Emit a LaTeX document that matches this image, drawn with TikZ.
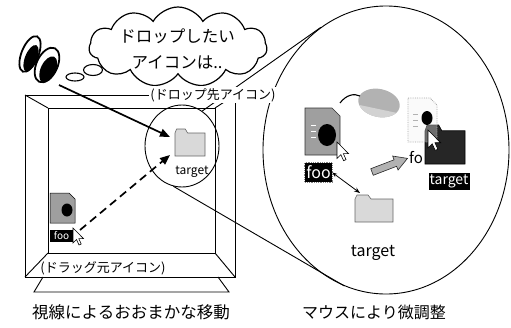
\documentclass[tikz,border=0pt]{standalone}
\usepackage{fontspec}
\setmainfont{Noto Sans CJK JP}
\usetikzlibrary{arrows.meta,shapes.geometric,shapes.symbols}
\begin{document}
\begin{tikzpicture}[x=1pt,y=-1pt,
  thinline/.style={line width=0.9pt},
  bold arrow/.style={line width=1.7pt,-{Triangle[length=10pt,width=8pt]}},
  iconlabel/.style={fill=black,text=white,inner sep=0pt},
  lightstipple/.style={fill=gray!30,draw=black!60,line width=0.6pt},
  folder/.pic={\path[pic actions] (0,4) -- (2,0) -- (13,0) -- (16,4) -- (38,4) -- (38,27) -- (0,27) -- cycle;},
  mousecursor/.pic={\draw[fill=white,line width=0.6pt,line join=miter]
      (0,0) -- (0,15) -- (3.5,11.5) -- (6,17) -- (8.2,16) -- (5.8,10.6) -- (10.5,10.6) -- cycle;},
]
\useasboundingbox (0,0) rectangle (511,327);

% --- eyes ---
\begin{scope}[shift={(30,54)},rotate=68]
  \draw[line width=1.8pt,fill=white] (0,0) ellipse [x radius=19,y radius=8.5];
  \fill (-3.5,2.5) ellipse [x radius=14,y radius=6];
\end{scope}
\begin{scope}[shift={(47,65)},rotate=65]
  \draw[line width=1.8pt,fill=white] (0,0) ellipse [x radius=18.5,y radius=10.5];
  \fill (-3.5,3) ellipse [x radius=14,y radius=7.5];
\end{scope}

% --- thought bubble ---
\draw[line width=1.1pt,fill=white] (75,77) ellipse [x radius=9,y radius=4];
\draw[line width=1.1pt,fill=white] (93,70) ellipse [x radius=9.5,y radius=5.5];
\node[cloud,draw,fill=white,line width=1.2pt,cloud puffs=11,cloud puff arc=120,aspect=2.3,
      minimum width=178pt,minimum height=80pt,inner sep=0pt] (thought) at (178,47) {};
\node[align=center,font=\fontsize{16.5}{26}\selectfont] (thoughttext) at (177,49) {ドロップしたい\\アイコンは..};

% --- monitor ---
\draw[thinline] (25,95) rectangle (235,277);
\draw[thinline] (48,108) rectangle (215,253);
\draw[thinline] (25,95) -- (48,108) (235,95) -- (215,108) (25,277) -- (48,253) (235,277) -- (215,253);
\draw[thinline] (43,277) -- (34,292) -- (229,292) -- (218,277);

% --- magnifier circles ---
\node[ellipse,draw,thinline,minimum width=74pt,minimum height=82pt,inner sep=0pt] (lens) at (182,146) {};
\node[ellipse,draw,thinline,minimum width=246pt,minimum height=288pt,inner sep=0pt] (zoomview) at (386,150) {};
\draw[thinline] (lens.60) -- (zoomview.118);
\draw[thinline] (lens.258) -- (zoomview.-107);

\node[fill=white,inner sep=1pt,font=\fontsize{13}{13}\selectfont] (droplab) at (213,95) {(ドロップ先アイコン)};
\node[font=\fontsize{13}{13}\selectfont] (draglab) at (103,268) {(ドラッグ元アイコン)};

% --- screen icons ---
\pic[lightstipple,xscale=30/38] at (175,129) {folder};
\node[font=\fontsize{12}{12}\selectfont] (scrtarget) at (192,172) {target};

\filldraw[fill=gray!75,draw=black,line width=0.5pt] (50,193) -- (69,193) -- (75,199) -- (75,223) -- (50,223) -- cycle;
\fill (67,210) ellipse [x radius=5.5,y radius=6.5];
\node[iconlabel,minimum width=23pt,minimum height=12pt,font=\fontsize{10}{10}\selectfont] (scrfoo) at (61.5,236) {foo};
\pic at (73,228) {mousecursor};

% --- eye movement arrows ---
\coordinate (gaze) at (59,85);
\coordinate (gazeend) at (170,137);
\draw[bold arrow] (gaze) -- (gazeend);
\coordinate (dragstart) at (80,230);
\coordinate (dragend) at (170,155);
\draw[bold arrow,dash pattern=on 8pt off 5pt] (dragstart) -- (dragend);

% --- enlarged view: mouse ---
\begin{scope}[shift={(379,103)},rotate=-12]
  \fill[gray!60] (0,0) ellipse [x radius=21,y radius=14];
  \begin{scope}
    \clip (0,0) ellipse [x radius=21,y radius=14];
    \fill[gray!35] (-22,6) rectangle (22,15);
  \end{scope}
\end{scope}
\draw[line width=1.1pt] (340,103) .. controls (346,95) and (354,93) .. (360,96);

% --- enlarged view: source document ---
\filldraw[fill=gray!75,draw=black!80,line width=0.6pt] (305,108) -- (332,108) -- (340,116) -- (340,155) -- (305,155) -- cycle;
\fill (327,135) ellipse [x radius=9,y radius=11];
\draw[white,line width=0.8pt] (311,125) -- (316,125) (311,131) -- (316,131) (311,137) -- (316,137);
\pic[scale=1.1] at (337,142) {mousecursor};
\node[iconlabel,minimum width=27pt,minimum height=19pt,font=\fontsize{16}{16}\selectfont] (bigfoo) at (318.5,172.5) {foo};
\draw[gray,densely dotted,line width=0.8pt] (bigfoo.north west) rectangle (bigfoo.south east);

% --- enlarged view: drop folder ---
\pic[lightstipple] at (355,195) {folder};
\coordinate (lowfold) at (360,193);
\draw[line width=0.8pt,{Stealth[length=5pt]}-{Stealth[length=6pt]}] (bigfoo.east) -- (lowfold);
\node[font=\fontsize{16}{16}\selectfont] (lowtarget) at (373,253) {target};

% --- enlarged view: move arrow ---
\begin{scope}[shift={(372,172)},rotate=21]
  \filldraw[fill=gray!60,draw=black!85,line width=0.6pt]
    (0,-3.5) -- (25,-3.5) -- (25,-7.5) -- (38,0) -- (25,7.5) -- (25,3.5) -- (0,3.5) -- cycle;
\end{scope}

% --- enlarged view: dragged ghost over highlighted folder ---
\node[anchor=west,inner sep=0pt,font=\fontsize{15}{15}\selectfont] (ghostfoo) at (409,158) {fo};
\pic[fill=black!85,draw=black,line width=0.6pt,xscale=40/38,yscale=39/27] at (425,125) {folder};
\filldraw[fill=gray!10,fill opacity=0.35,draw=gray!70,densely dotted,line width=0.8pt]
  (408,98) -- (430,98) -- (437,105) -- (437,142) -- (408,142) -- cycle;
\fill (427,118) ellipse [x radius=5.5,y radius=7];
\draw[gray!60,line width=0.8pt] (413,114) -- (418,114) (413,120) -- (418,120) (413,126) -- (418,126);
\pic[scale=1.2] at (428,130) {mousecursor};
\node[iconlabel,minimum width=41pt,minimum height=17pt,font=\fontsize{14}{14}\selectfont] (bigtarget) at (449,181) {target};

% --- captions ---
\node[font=\fontsize{16.5}{16.5}\selectfont] (capleft) at (131,312) {視線によるおおまかな移動};
\node[font=\fontsize{16}{16}\selectfont] (capright) at (374,312) {マウスにより微調整};
\end{tikzpicture}
\end{document}
